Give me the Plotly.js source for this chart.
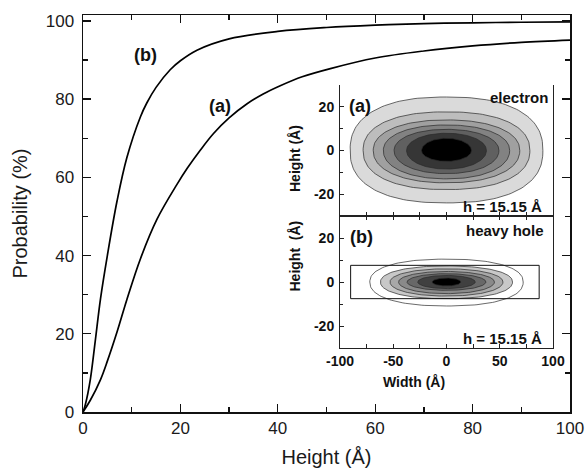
<!DOCTYPE html>
<html>
<head>
<meta charset="utf-8">
<script src="https://cdn.plot.ly/plotly-3.0.1.min.js"></script>
<style>html,body{margin:0;padding:0;background:#fff;}#chart{width:586px;height:470px;}</style>
</head>
<body>
<div id="chart"></div>
<script>
// ---- main chart data ----
const heightA = [0, 1.5, 3.6, 5, 7, 9, 11.8, 15.2, 19.3, 21.4, 24, 26.8, 30, 33.7, 37, 40.5, 45, 50.8, 60, 70, 80, 90, 100];
const probA   = [0, 3, 8.3, 13, 20.5, 28.7, 39.2, 49.3, 58.2, 62.3, 66.8, 71.2, 75.2, 78.8, 81.3, 83.4, 85.7, 87.8, 90.5, 92.3, 93.6, 94.5, 95.1];
const heightB = [0, 0.5, 1.5, 2.5, 3.6, 5, 7, 9, 11.8, 13.1, 15, 17.9, 20, 23.4, 30, 40, 50, 60, 70, 80, 90, 100];
const probB   = [0, 2, 8.3, 18, 29, 40, 54, 65, 75.5, 79, 83, 87.5, 89.8, 92.5, 95.4, 97.3, 98.3, 98.9, 99.3, 99.5, 99.65, 99.75];

// ---- inset (a): electron contour levels (outer -> inner) ----
const elHalfWidth = [90.5, 78.3, 68.8, 59.3, 49.2, 37.5, 23.5];
const elTop       = [24.5, 17.7, 14.0, 11.7, 9.7, 7.9, 5.6];
const elBottom    = [-24.0, -17.9, -14.8, -13.0, -10.6, -8.5, -5.0];
const elExp       = [2.4, 2.3, 2.2, 2.15, 2.1, 2.05, 2.0];
const elColors    = ['#dadada', '#bdbdbd', '#a0a0a0', '#828282', '#606060', '#363636', '#000000'];

// ---- inset (b): heavy hole contour levels (outer -> inner) ----
const hhHalfWidth = [72, 62, 53, 45, 37, 27, 13.5];
const hhTop       = [10.4, 7.3, 6.0, 4.8, 3.8, 3.0, 1.8];
const hhBottom    = [-10.9, -7.6, -6.4, -5.3, -3.8, -3.0, -1.8];
const hhExp       = [2.3, 2.2, 2.1, 2.05, 2.0, 2.0, 2.0];
const hhColors    = ['#ffffff', '#c8c8c8', '#a8a8a8', '#8a8a8a', '#686868', '#404040', '#000000'];
const wellX = [-90, 87];
const wellY = [-7.575, 7.575];

const FONT = 'Arial, "Liberation Sans", sans-serif';

function levelPath(a, top, bottom, n) {
  const xs = [], ys = [];
  const N = 160;
  for (let i = 0; i <= N; i++) {
    const t = 2 * Math.PI * i / N;
    const c = Math.cos(t), s = Math.sin(t);
    xs.push(a * Math.sign(c) * Math.pow(Math.abs(c), 2 / n));
    const b = s >= 0 ? top : -bottom;
    ys.push(b * Math.sign(s) * Math.pow(Math.abs(s), 2 / n));
  }
  return {xs, ys};
}

const traces = [
  {x: heightA, y: probA, mode: 'lines', line: {color: '#000', width: 1.7, shape: 'spline', smoothing: 1}, xaxis: 'x', yaxis: 'y', hoverinfo: 'skip'},
  {x: heightB, y: probB, mode: 'lines', line: {color: '#000', width: 1.7, shape: 'spline', smoothing: 1}, xaxis: 'x', yaxis: 'y', hoverinfo: 'skip'}
];

elHalfWidth.forEach((a, i) => {
  const p = levelPath(a, elTop[i], elBottom[i], elExp[i]);
  traces.push({x: p.xs, y: p.ys, mode: 'lines', fill: 'toself', fillcolor: elColors[i],
    line: {color: '#2a2a2a', width: 0.7}, xaxis: 'x2', yaxis: 'y2', hoverinfo: 'skip'});
});
hhHalfWidth.forEach((a, i) => {
  const p = levelPath(a, hhTop[i], hhBottom[i], hhExp[i]);
  traces.push({x: p.xs, y: p.ys, mode: 'lines', fill: 'toself', fillcolor: hhColors[i],
    line: {color: '#2a2a2a', width: 0.7}, xaxis: 'x3', yaxis: 'y3', hoverinfo: 'skip'});
});
traces.push({x: [wellX[0], wellX[1], wellX[1], wellX[0], wellX[0]], y: [wellY[0], wellY[0], wellY[1], wellY[1], wellY[0]],
  mode: 'lines', line: {color: '#111', width: 1}, xaxis: 'x3', yaxis: 'y3', hoverinfo: 'skip'});

const mainAxis = {
  showline: true, linewidth: 1.5, linecolor: '#111', mirror: 'ticks',
  ticks: 'inside', ticklen: 8, tickwidth: 1.3, tickcolor: '#111',
  showgrid: false, zeroline: false, dtick: 20,
  minor: {dtick: 10, ticks: 'inside', ticklen: 5, tickwidth: 1.3, tickcolor: '#111', showgrid: false},
  tickfont: {family: FONT, size: 17, color: '#1a1a1a'},
  fixedrange: true
};

const insetTickFont = {family: FONT, size: 14, color: '#111', weight: 'bold'};
const insetX = [0.5277, 0.9651];
const insetY = {
  showline: true, linewidth: 1, linecolor: '#222', mirror: true,
  ticks: 'inside', ticklen: 4, tickwidth: 1, tickcolor: '#222',
  showgrid: false, zeroline: false, range: [-30, 30],
  tickvals: [-20, 0, 20], ticktext: ['-20', '0', '20'],
  minor: {tickvals: [-10, 10], ticks: 'inside', ticklen: 3, tickwidth: 1, tickcolor: '#222'},
  tickfont: insetTickFont, ticklabelstandoff: 2
};
const insetXBase = {
  domain: insetX, range: [-100, 100],
  showline: true, linewidth: 1, linecolor: '#222',
  ticks: 'inside', ticklen: 4, tickwidth: 1, tickcolor: '#222',
  showgrid: false, zeroline: false,
  tickvals: [-100, -50, 0, 50, 100], ticktext: ['-100', '-50', '0', '50', '100'],
  minor: {tickvals: [-75, -25, 25, 75], ticks: 'inside', ticklen: 4, tickwidth: 1, tickcolor: '#222'},
  tickfont: insetTickFont
};

const layout = {
  width: 586, height: 470,
  margin: {l: 83, r: 16, t: 15, b: 58},
  paper_bgcolor: '#fff', plot_bgcolor: 'rgba(0,0,0,0)',
  showlegend: false,
  xaxis: Object.assign({}, mainAxis, {domain: [0, 1], range: [0, 100], anchor: 'y',
    title: {text: 'Height (Å)', font: {family: FONT, size: 20, color: '#1a1a1a'}, standoff: 13}}),
  yaxis: Object.assign({}, mainAxis, {domain: [0, 1], range: [0, 101.5], anchor: 'x', ticklabelstandoff: 4,
    title: {text: 'Probability (%)', font: {family: FONT, size: 20, color: '#1a1a1a'}, standoff: 12}}),
  xaxis2: Object.assign({}, insetXBase, {anchor: 'y2', showticklabels: false}),
  yaxis2: Object.assign({}, insetY, {domain: [0.4937, 0.8237], anchor: 'x2'}),
  xaxis3: Object.assign({}, insetXBase, {anchor: 'y3', mirror: 'ticks'}),
  yaxis3: Object.assign({}, insetY, {domain: [0.1612, 0.4937], anchor: 'x3'}),
  shapes: [
    {type: 'rect', xref: 'paper', yref: 'paper', x0: insetX[0], x1: insetX[1], y0: 0.1612, y1: 0.8237,
     fillcolor: '#fff', line: {width: 0}, layer: 'below'}
  ],
  annotations: [
    {x: 12.9, y: 91.3, xref: 'x', yref: 'y', text: '<b>(b)</b>', showarrow: false, font: {family: FONT, size: 18, color: '#111'}},
    {x: 28.1, y: 78.3, xref: 'x', yref: 'y', text: '<b>(a)</b>', showarrow: false, font: {family: FONT, size: 18, color: '#111'}},
    {x: -81, y: 20.5, xref: 'x2', yref: 'y2', text: '<b>(a)</b>', showarrow: false, font: {family: FONT, size: 18, color: '#111'}},
    {x: 97, y: 24.3, xref: 'x2', yref: 'y2', xanchor: 'right', text: '<b>electron</b>', showarrow: false, font: {family: FONT, size: 15, color: '#111'}},
    {x: 92, y: -25.6, xref: 'x2', yref: 'y2', xanchor: 'right', text: '<b>h = 15.15 Å</b>', showarrow: false, font: {family: FONT, size: 15, color: '#111'}},
    {x: -79.4, y: 20.5, xref: 'x3', yref: 'y3', text: '<b>(b)</b>', showarrow: false, font: {family: FONT, size: 18, color: '#111'}},
    {x: 93, y: 23.2, xref: 'x3', yref: 'y3', xanchor: 'right', text: '<b>heavy hole</b>', showarrow: false, font: {family: FONT, size: 15, color: '#111'}},
    {x: 92, y: -25.8, xref: 'x3', yref: 'y3', xanchor: 'right', text: '<b>h = 15.15 Å</b>', showarrow: false, font: {family: FONT, size: 15, color: '#111'}},
    {x: 0.7468, y: 0.05, xref: 'paper', yref: 'paper', text: '<b>Width (Å)</b>', showarrow: false, font: {family: FONT, size: 14, color: '#111'}},
    {x: 0.4353, y: 0.6398, xref: 'paper', yref: 'paper', text: '<b>Height (Å)</b>', textangle: -90, showarrow: false, font: {family: FONT, size: 14, color: '#111'}},
    {x: 0.4353, y: 0.2997, xref: 'paper', yref: 'paper', text: '<b>Height  (Å)</b>', textangle: -90, showarrow: false, font: {family: FONT, size: 14, color: '#111'}}
  ]
};

Plotly.newPlot('chart', traces, layout, {staticPlot: true, displayModeBar: false});
</script>
</body>
</html>
